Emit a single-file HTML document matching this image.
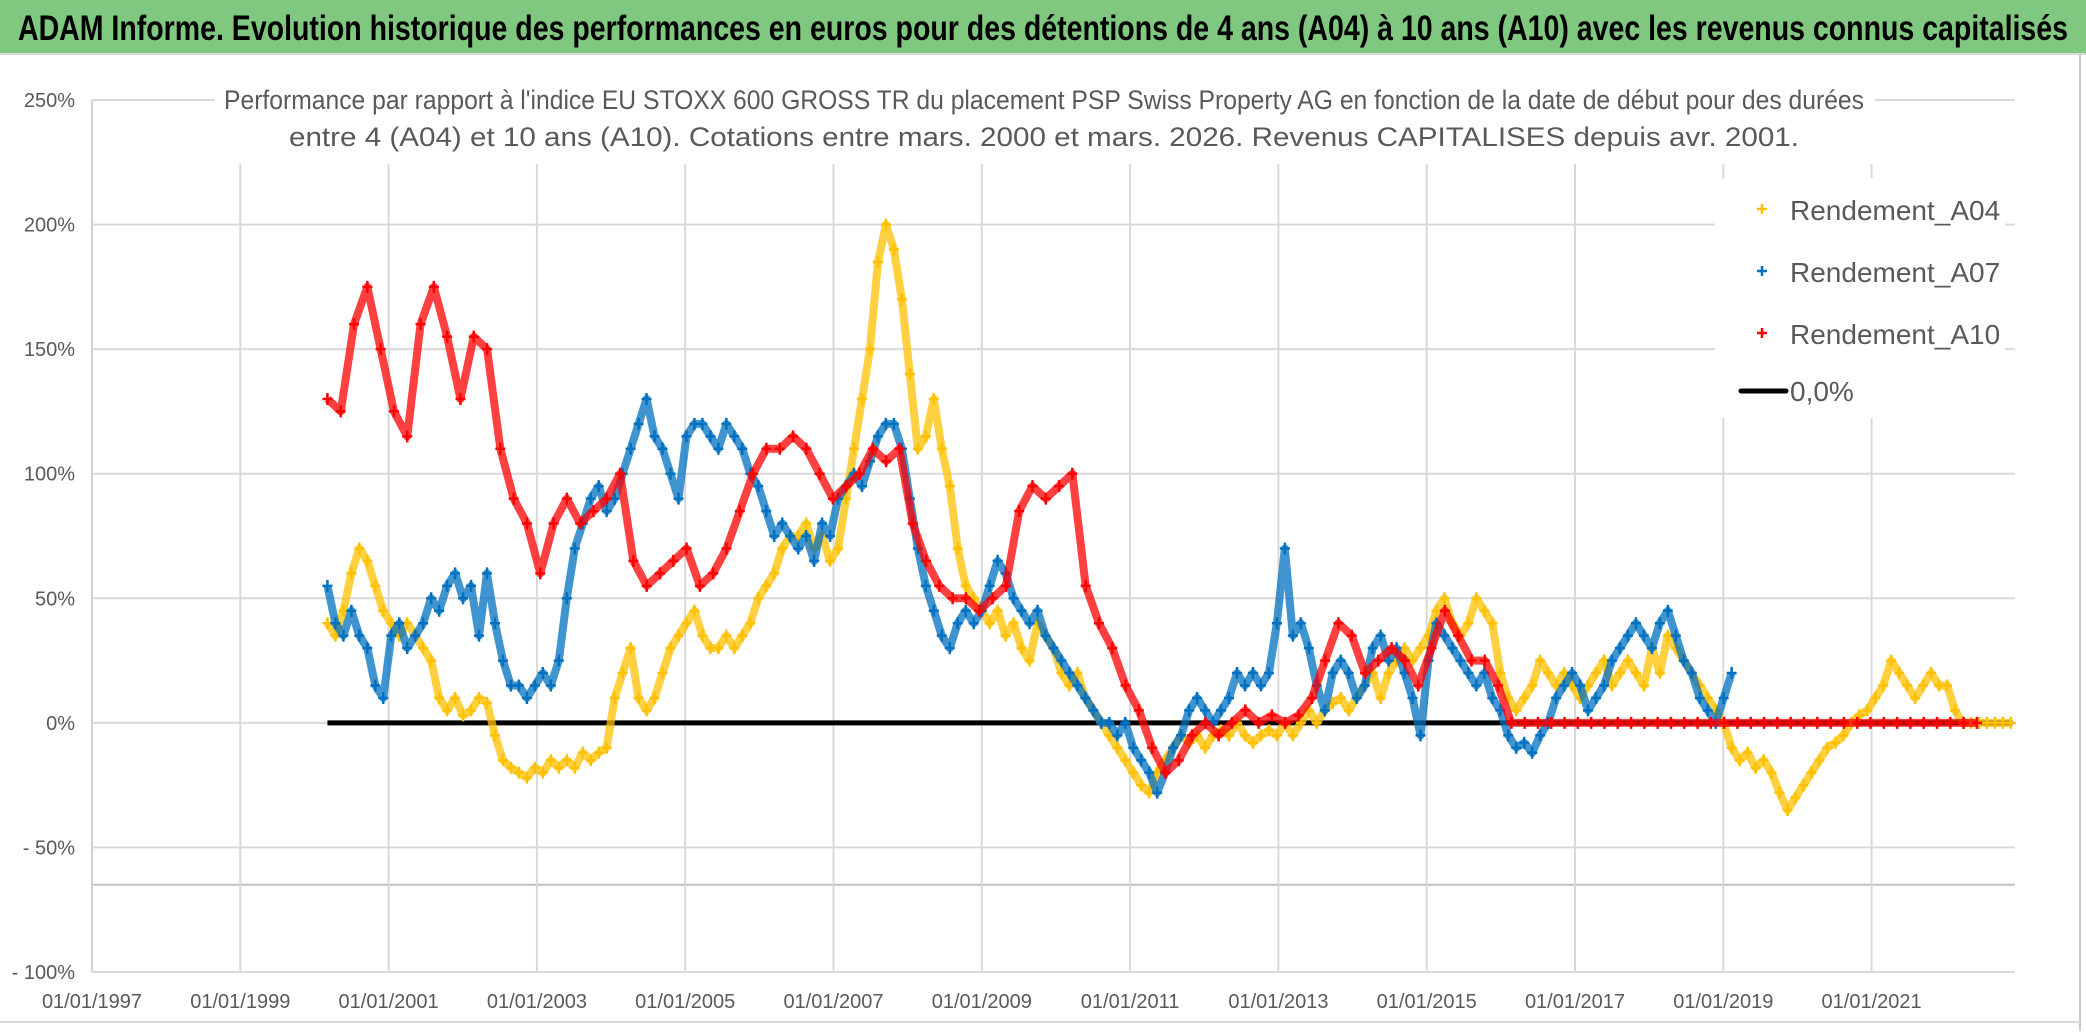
<!DOCTYPE html>
<html><head><meta charset="utf-8">
<style>
html,body{margin:0;padding:0;background:#fff;}
body{width:2086px;height:1031px;overflow:hidden;font-family:"Liberation Sans",sans-serif;}
</style></head>
<body>
<svg id="chart" width="2086" height="1031" xmlns="http://www.w3.org/2000/svg">
<rect x="0" y="0" width="2086" height="1031" fill="#fff"/>
<rect x="0" y="0" width="2086" height="53" fill="#80C880"/>
<line x1="0" y1="54" x2="2086" y2="54" stroke="#d8d8d8" stroke-width="2"/>
<text x="1043" y="40" text-anchor="middle" font-size="35" font-weight="bold" fill="#000" textLength="2050" lengthAdjust="spacingAndGlyphs">ADAM Informe. Evolution historique des performances en euros pour des détentions de 4 ans (A04) à 10 ans (A10) avec les revenus connus capitalisés</text>
<line x1="2080" y1="55" x2="2080" y2="1031" stroke="#c8c8c8" stroke-width="2"/>
<line x1="0" y1="1022" x2="2080" y2="1022" stroke="#d8d8d8" stroke-width="2"/>
<g id="grid"></g>
<g id="series"></g>
<rect x="215" y="78" width="1660" height="86" fill="#fff"/>
<text x="1044" y="109" text-anchor="middle" font-size="27" fill="#595959" textLength="1640" lengthAdjust="spacingAndGlyphs">Performance par rapport à l'indice EU STOXX 600 GROSS TR  du placement PSP Swiss Property AG en fonction de la date de début pour des durées</text>
<text x="1044" y="146" text-anchor="middle" font-size="27" fill="#595959" textLength="1510" lengthAdjust="spacingAndGlyphs">entre 4 (A04) et 10 ans (A10). Cotations entre mars. 2000 et mars. 2026. Revenus CAPITALISES depuis avr. 2001.</text>
<g id="legend">
<rect x="1715" y="178" width="290" height="240" fill="#fff"/>
</g>
</svg>
<script>
const yTicks=[250,200,150,100,50,0,-50,-100];
const yTickLabels=["250%","200%","150%","100%","50%","0%","- 50%","- 100%"];
const xTickYears=[1997,1999,2001,2003,2005,2007,2009,2011,2013,2015,2017,2019,2021];
const xTickLabels=["01/01/1997","01/01/1999","01/01/2001","01/01/2003","01/01/2005","01/01/2007","01/01/2009","01/01/2011","01/01/2013","01/01/2015","01/01/2017","01/01/2019","01/01/2021"];
const seriesStart=2000.175;
const stepA04=0.1076, stepA07=0.1076, stepA10=0.1794;
const valsA04=[40,35,45,60,70,65,55,45,40,35,40,35,30,25,10,5,10,3,5,10,8,-5,-15,-18,-20,-22,-18,-20,-15,-18,-15,-18,-12,-15,-12,-10,10,20,30,10,5,10,20,30,35,40,45,35,30,30,35,30,35,40,50,55,60,70,75,75,80,70,75,65,70,90,110,130,150,185,200,190,170,140,110,115,130,110,95,70,55,50,45,40,45,35,40,30,25,40,35,30,20,15,20,10,5,0,-5,-10,-15,-20,-25,-28,-20,-15,-10,-5,-8,-5,-10,-5,-3,-5,0,-5,-8,-5,-3,-5,0,-5,0,5,0,5,8,10,5,10,15,20,10,20,25,30,25,30,35,45,50,40,35,40,50,45,40,20,10,5,10,15,25,20,15,20,15,10,15,20,25,15,20,25,20,15,30,20,35,30,25,20,15,10,5,0,-10,-15,-12,-18,-15,-20,-28,-35,-30,-25,-20,-15,-10,-8,-5,0,3,5,10,15,25,20,15,10,15,20,15,15,5,0,0,0,0,0,0,0];
const valsA07=[55,40,35,45,35,30,15,10,35,40,30,35,40,50,45,55,60,50,55,35,60,40,25,15,15,10,15,20,15,25,50,70,80,90,95,85,90,100,110,120,130,115,110,100,90,115,120,120,115,110,120,115,110,100,95,85,75,80,75,70,75,65,80,75,90,95,100,95,105,115,120,120,110,90,70,55,45,35,30,40,45,40,45,55,65,60,50,45,40,45,35,30,25,20,15,10,5,0,0,-5,0,-10,-15,-20,-28,-20,-10,-5,5,10,5,0,5,10,20,15,20,15,20,40,70,35,40,30,15,5,20,25,20,10,15,30,35,25,30,20,10,-5,25,40,35,30,25,20,15,20,10,5,-5,-10,-8,-12,-5,0,10,15,20,15,5,10,15,25,30,35,40,35,30,40,45,35,25,20,10,5,0,10,20];
const valsA10=[130,125,160,175,150,125,115,160,175,155,130,155,150,110,90,80,60,80,90,80,85,90,100,65,55,60,65,70,55,60,70,85,100,110,110,115,110,100,90,95,100,110,105,110,80,65,55,50,50,45,50,55,85,95,90,95,100,55,40,30,15,5,-10,-20,-15,-5,0,-5,0,5,0,3,0,3,10,25,40,35,20,25,30,25,15,30,45,35,25,25,15,0,0,0,0,0,0,0,0,0,0,0,0,0,0,0,0,0,0,0,0,0,0,0,0,0,0,0,0,0,0,0,0,0,0,0,0];
const zeroLine={start:2000.175,end:2022.9,value:0};

const L=92,R=2015,T=100,B=972;
const xOf=yr=>L+(yr-1997)*74.15;
const yOf=v=>T+(250-v)/350*(B-T);
const NS="http://www.w3.org/2000/svg";
function mk(tag,attrs,parent){const e=document.createElementNS(NS,tag);for(const k in attrs)e.setAttribute(k,attrs[k]);parent.appendChild(e);return e;}
const grid=document.getElementById('grid');
yTicks.forEach((v,i)=>{
  const ln=mk('line',{x1:L,x2:R,y1:yOf(v),y2:yOf(v),stroke:'#d9d9d9','stroke-width':2},grid);
  
  
  const t=mk('text',{x:75,y:yOf(v)+7,'text-anchor':'end','font-size':20,fill:'#595959'},grid);
  t.textContent=yTickLabels[i];
  
  
});
const ax=mk('line',{x1:L,x2:R,y1:yOf(-65),y2:yOf(-65),stroke:'#bfbfbf','stroke-width':2},grid);


const ya=mk('line',{x1:L,x2:L,y1:T,y2:B,stroke:'#d0d0d0','stroke-width':2},grid);


xTickYears.forEach((yr,i)=>{
  if(i>0){const g=mk('line',{x1:xOf(yr),x2:xOf(yr),y1:T,y2:B,stroke:'#d9d9d9','stroke-width':2},grid);
  
  }
  const t=mk('text',{x:xOf(yr),y:1008,'text-anchor':'middle','font-size':20,fill:'#595959'},grid);
  t.textContent=xTickLabels[i];
  
  
});
const ser=document.getElementById('series');
const zl=mk('line',{x1:xOf(zeroLine.start),x2:xOf(zeroLine.end),y1:yOf(zeroLine.value),y2:yOf(zeroLine.value),stroke:'#000','stroke-width':5},ser);


function drawSeries(vals,step,color,name){
  const g=mk('g',{},ser);
  
  
  const pts=vals.map((v,i)=>[xOf(seriesStart+i*step),yOf(v)]);
  mk('polyline',{points:pts.map(p=>p.join(',')).join(' '),fill:'none',stroke:color,'stroke-width':8,'stroke-linejoin':'round','stroke-opacity':0.75},g);
  let d='';
  pts.forEach(p=>{d+=`M${p[0]-5},${p[1]}h10M${p[0]},${p[1]-6}v12`;});
  const m=mk('path',{d:d,stroke:color,'stroke-width':2.5,fill:'none'},g);
  
  
}
drawSeries(valsA04,stepA04,'#FFC000','series-a04');
drawSeries(valsA07,stepA07,'#0070C0','series-a07');
drawSeries(valsA10,stepA10,'#FF0000','series-a10');

const leg=document.getElementById('legend');
const items=[['Rendement_A04','#FFC000',209],['Rendement_A07','#0070C0',271],['Rendement_A10','#FF0000',333]];
items.forEach(it=>{
  const m=mk('path',{d:`M${1757},${it[2]}h10M${1762},${it[2]-5}v10`,stroke:it[1],'stroke-width':2.5},leg);
  
  
  const t=mk('text',{x:1790,y:it[2]+11,'font-size':28,fill:'#595959'},leg);
  t.textContent=it[0];
  
  
});
const zlL=mk('line',{x1:1741,x2:1786,y1:391,y2:391,stroke:'#000','stroke-width':5,'stroke-linecap':'round'},leg);


const zt=mk('text',{x:1790,y:401,'font-size':28,fill:'#595959'},leg);
zt.textContent='0,0%';


</script>
</body></html>
